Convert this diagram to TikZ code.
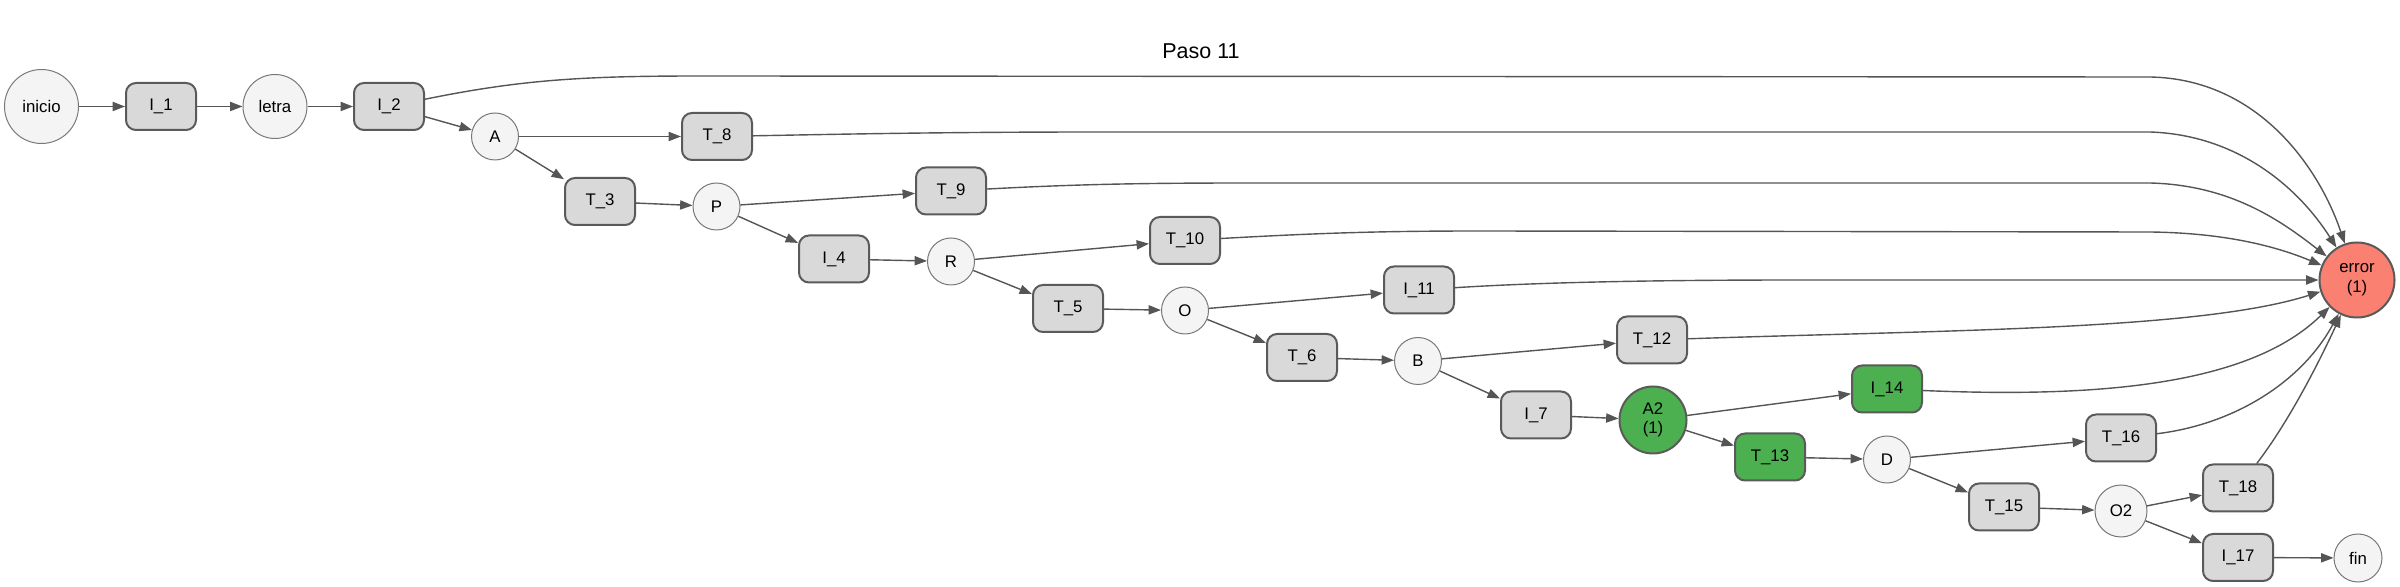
\documentclass[tikz,border=0pt]{standalone}
\usepackage{fontspec}
\setmainfont{Liberation Sans}
\usetikzlibrary{arrows.meta}
\definecolor{edgecol}{RGB}{85,85,85}
\definecolor{boxfill}{RGB}{217,217,217}
\definecolor{boxline}{RGB}{90,90,90}
\definecolor{circfill}{RGB}{244,244,244}
\definecolor{circline}{RGB}{120,120,120}
\definecolor{greenfill}{RGB}{76,175,80}
\definecolor{errfill}{RGB}{250,128,114}
\begin{document}
\begin{tikzpicture}[x={(0.5pt,0pt)},y={(0pt,-0.5pt)},
 every node/.style={font=\fontsize{8.4pt}{9.8pt}\selectfont, align=center},
 box/.style={draw=boxline, line width=1pt, fill=boxfill, rounded corners=5pt, minimum width=35pt, minimum height=23.5pt, inner sep=0pt},
 greenbox/.style={box, fill=greenfill},
 circ/.style={circle, draw=circline, line width=0.5pt, fill=circfill, inner sep=0pt},
 conn/.style={draw=edgecol, line width=0.7pt, -{Triangle[length=6.2pt,width=4.6pt]}}
]
\useasboundingbox (0,0) rectangle (2400,587);
\node[font=\fontsize{10.75pt}{12pt}\selectfont] (title) at (1201,51) {Paso 11};
% nodes
\node[circ, minimum size=37pt] (inicio) at (41.5,106.5) {inicio};
\node[box] (I1) at (161,106.5) {I\_1};
\node[circ, minimum size=32pt] (letra) at (275,106.5) {letra};
\node[box] (I2) at (389,106.5) {I\_2};
\node[circ, minimum size=23.5pt] (A) at (495,136.5) {A};
\node[box] (T8) at (717,136.5) {T\_8};
\node[box] (T3) at (600,201.5) {T\_3};
\node[circ, minimum size=23.5pt] (P) at (716.5,206.5) {P};
\node[box] (T9) at (951,191) {T\_9};
\node[box] (I4) at (834,259) {I\_4};
\node[circ, minimum size=23.5pt] (R) at (951,261.5) {R};
\node[box] (T10) at (1185,240.5) {T\_10};
\node[box] (T5) at (1068,308.5) {T\_5};
\node[circ, minimum size=23.5pt] (O) at (1185,310.5) {O};
\node[box] (I11) at (1419,290) {I\_11};
\node[box] (T6) at (1302,357.5) {T\_6};
\node[circ, minimum size=23.5pt] (B) at (1418,361) {B};
\node[box] (T12) at (1652,340) {T\_12};
\node[box] (I7) at (1536,415) {I\_7};
\node[circ, draw=boxline, line width=1pt, fill=greenfill, minimum size=33.5pt] (A2) at (1653,420) {A2\\(1)};
\node[greenbox] (I14) at (1887,389) {I\_14};
\node[greenbox] (T13) at (1770,457) {T\_13};
\node[circ, minimum size=23.5pt] (D) at (1887,459.5) {D};
\node[box] (T16) at (2121,438) {T\_16};
\node[box] (T15) at (2004,507) {T\_15};
\node[circ, minimum size=26pt] (O2) at (2121,511) {O2};
\node[box] (T18) at (2238,488) {T\_18};
\node[box] (I17) at (2238,557.5) {I\_17};
\node[circ, minimum size=24pt] (fin) at (2358,558) {fin};
\node[circ, draw=boxline, line width=1pt, fill=errfill, minimum size=37.5pt] (error) at (2357,280) {error\\(1)};
% straight edges
\draw[conn] (inicio) -- (I1);
\draw[conn] (I1) -- (letra);
\draw[conn] (letra) -- (I2);
\draw[conn] (I2) -- (A);
\draw[conn] (A) -- (T8);
\draw[conn] (A) -- (T3);
\draw[conn] (T3) -- (P);
\draw[conn] (P) -- (T9);
\draw[conn] (P) -- (I4);
\draw[conn] (I4) -- (R);
\draw[conn] (R) -- (T10);
\draw[conn] (R) -- (T5);
\draw[conn] (T5) -- (O);
\draw[conn] (O) -- (I11);
\draw[conn] (O) -- (T6);
\draw[conn] (T6) -- (B);
\draw[conn] (B) -- (T12);
\draw[conn] (B) -- (I7);
\draw[conn] (I7) -- (A2);
\draw[conn] (A2) -- (I14);
\draw[conn] (A2) -- (T13);
\draw[conn] (T13) -- (D);
\draw[conn] (D) -- (T16);
\draw[conn] (D) -- (T15);
\draw[conn] (T15) -- (O2);
\draw[conn] (O2) -- (T18);
\draw[conn] (O2) -- (I17);
\draw[conn] (I17) -- (fin);
% curved edges into error
\draw[conn] (I2) .. controls (520,80) and (580,76) .. (700,76) -- (2150,77) .. controls (2260,79) and (2320,170) .. (error);
\draw[conn] (T8) .. controls (850,134) and (950,132) .. (1100,132) -- (2150,132) .. controls (2240,135) and (2300,190) .. (error);
\draw[conn] (T9) .. controls (1080,184) and (1150,183) .. (1250,183) -- (2150,183) .. controls (2230,185) and (2280,220) .. (error);
\draw[conn] (T10) .. controls (1320,233) and (1380,231) .. (1480,231) -- (2150,232) .. controls (2230,233) and (2280,248) .. (error);
\draw[conn] (I11) .. controls (1560,281) and (1700,280) .. (1800,280) -- (error);
\draw[conn] (T12) .. controls (1950,330) and (2200,330) .. (error);
\draw[conn] (I14) .. controls (2100,398) and (2250,385) .. (error);
\draw[conn] (T16) .. controls (2230,425) and (2300,385) .. (error);
\draw[conn] (T18) .. controls (2290,420) and (2320,360) .. (error);
\end{tikzpicture}
\end{document}
